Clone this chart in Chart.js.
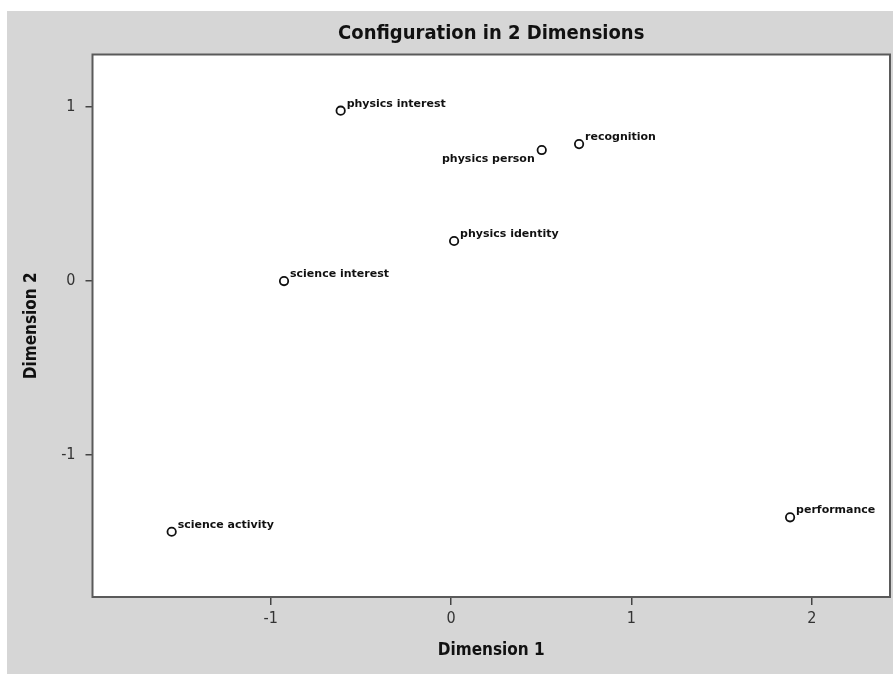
<!DOCTYPE html>
<html>
<head>
<meta charset="utf-8">
<script src="https://cdn.jsdelivr.net/npm/chart.js@4.4.1/dist/chart.umd.min.js"></script>
<style>
  html, body { margin: 0; padding: 0; background: #fff; }
  #wrap { position: absolute; left: 7px; top: 11px; width: 886px; height: 663px; background: #d6d6d6; }
</style>
</head>
<body>
<div id="wrap"><canvas id="mds"></canvas></div>
<script>
// MDS configuration
const chartTitle = 'Configuration in 2 Dimensions';
const terms = ['physics interest', 'physics person', 'recognition', 'physics identity',
               'science interest', 'science activity', 'performance'];
const dim1 = [-0.612, 0.503, 0.710, 0.017, -0.926, -1.549, 1.880];
const dim2 = [0.979, 0.753, 0.787, 0.230, 0.000, -1.441, -1.358];
const xTicks = [-1, 0, 1, 2];
const yTicks = [-1, 0, 1];
const xTickLabels = ['-1', '0', '1', '2'];
const yTickLabels = ['-1', '0', '1'];

const narrow = '"Liberation Sans Narrow", "Arial Narrow", "DejaVu Sans Condensed", sans-serif';

// white plot box, title over it, labels next to each point
const mdsLabels = {
    id: 'mdsLabels',
    beforeDraw(chart) {
        const {left, top, right, bottom} = chart.chartArea;
        const ctx = chart.ctx;
        ctx.save();
        ctx.fillStyle = '#ffffff';
        ctx.fillRect(left, top, right - left, bottom - top);
        ctx.font = 'bold 20px ' + narrow;
        ctx.fillStyle = '#111';
        ctx.textAlign = 'center';
        ctx.textBaseline = 'middle';
        ctx.fillText(chartTitle, (left + right) / 2, 23);
        ctx.restore();
    },
    afterDatasetsDraw(chart, args, opts) {
        const ctx = chart.ctx;
        const pts = chart.getDatasetMeta(0).data;
        ctx.save();
        ctx.font = 'bold 11px "DejaVu Sans", sans-serif';
        ctx.fillStyle = '#111';
        ctx.textBaseline = 'alphabetic';
        pts.forEach((p, i) => {
            const name = terms[i];
            if (opts.leftSide.includes(name)) {
                ctx.textAlign = 'right';
                ctx.fillText(name, p.x - 7, p.y + 12);
            } else {
                ctx.textAlign = 'left';
                ctx.fillText(name, p.x + 6, p.y - 4);
            }
        });
        ctx.restore();
    },
    afterDraw(chart) {
        const {left, top, right, bottom} = chart.chartArea;
        const ctx = chart.ctx;
        ctx.save();
        ctx.strokeStyle = '#5a5a5a';
        ctx.lineWidth = 2;
        ctx.strokeRect(left, top, right - left, bottom - top);
        ctx.restore();
    }
};

const ctx = document.getElementById('mds').getContext('2d');
const mdsChart = new Chart(ctx, {
    type: 'scatter',
    data: {
        datasets: [{
            label: 'Configuration',
            data: dim1.map((x, i) => ({x: x, y: dim2[i]})),
            pointRadius: 4.2,
            pointHoverRadius: 4.2,
            pointBorderWidth: 1.8,
            pointBorderColor: '#111',
            pointBackgroundColor: '#fff'
        }]
    },
    options: {
        responsive: true,
        maintainAspectRatio: false,
        animation: false,
        layout: { autoPadding: false, padding: { left: 0, right: 3, top: 43.5, bottom: 0 } },
        plugins: {
            legend: { display: false },
            tooltip: { enabled: false },
            title: { display: false },
            mdsLabels: { leftSide: ['physics person'] }
        },
        scales: {
            x: {
                type: 'linear',
                min: -1.988,
                max: 2.434,
                border: { display: false },
                grid: { drawOnChartArea: false, drawTicks: true, tickLength: 8, tickColor: '#444', lineWidth: 1.5 },
                afterBuildTicks: s => { s.ticks = xTicks.map(v => ({value: v})); },
                afterFit: s => { s.height = 77; },
                ticks: {
                    padding: 4,
                    color: '#333',
                    font: { family: narrow, size: 16 },
                    callback: v => xTickLabels[xTicks.indexOf(v)]
                },
                title: {
                    display: true,
                    text: 'Dimension 1',
                    color: '#111',
                    font: { family: narrow, size: 17, weight: 'bold' },
                    padding: { top: 0, bottom: 13.5 }
                }
            },
            y: {
                type: 'linear',
                min: -1.816,
                max: 1.302,
                border: { display: false },
                grid: { drawOnChartArea: false, drawTicks: true, tickLength: 7, tickColor: '#444', lineWidth: 1.5 },
                afterBuildTicks: s => { s.ticks = yTicks.map(v => ({value: v})); },
                afterFit: s => { s.width = 85.5; },
                ticks: {
                    padding: 10,
                    color: '#333',
                    font: { family: narrow, size: 16 },
                    callback: v => yTickLabels[yTicks.indexOf(v)]
                },
                title: {
                    display: true,
                    text: 'Dimension 2',
                    color: '#111',
                    font: { family: narrow, size: 17, weight: 'bold' },
                    padding: { top: 14.8, bottom: 0 }
                }
            }
        }
    },
    plugins: [mdsLabels]
});
</script>
</body>
</html>
